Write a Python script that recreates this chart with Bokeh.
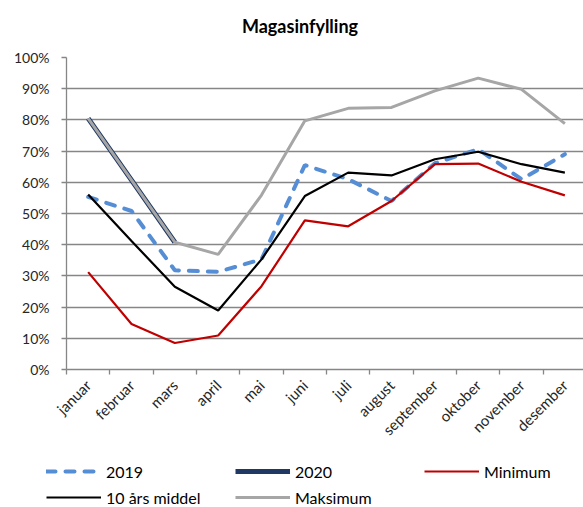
from bokeh.plotting import figure
from bokeh.layouts import column
from bokeh.models import (Range1d, FixedTicker, NumeralTickFormatter, Legend, LegendItem, Label)
from bokeh.embed import file_html
from bokeh.resources import INLINE
import math

months = ["januar", "februar", "mars", "april", "mai", "juni", "juli",
          "august", "september", "oktober", "november", "desember"]
v2019 = [0.553, 0.508, 0.318, 0.313, 0.353, 0.655, 0.610, 0.540, 0.661, 0.706, 0.610, 0.690]
v2020 = [0.805, 0.607, 0.408]
vmin = [0.312, 0.146, 0.085, 0.109, 0.267, 0.478, 0.459, 0.540, 0.658, 0.660, 0.602, 0.558]
vmid = [0.561, 0.412, 0.265, 0.189, 0.353, 0.556, 0.631, 0.622, 0.674, 0.698, 0.658, 0.631]
vmax = [0.805, 0.607, 0.408, 0.369, 0.559, 0.797, 0.837, 0.840, 0.893, 0.934, 0.898, 0.788]
yticks = [i / 10 for i in range(11)]

xs = list(range(len(months)))
FONT = "Lato"
TITLE = "Magasinfylling"

STYLES = {
    "2019": dict(line_color="#558ED5", line_width=4, line_dash="9 10", line_cap="round"),
    "2020": dict(line_color="#1F3864", line_width=5),
    "Minimum": dict(line_color="#C00000", line_width=2.2),
    "10 års middel": dict(line_color="black", line_width=2.2),
    "Maksimum": dict(line_color="#A6A6A6", line_width=3),
}


def bare(height):
    f = figure(width=583, height=height, output_backend="svg", toolbar_location=None,
               x_range=Range1d(0, 583), y_range=Range1d(0, height),
               x_axis_location=None, y_axis_location=None,
               min_border=0, min_border_left=0, min_border_right=0,
               min_border_top=0, min_border_bottom=0)
    f.grid.visible = False
    f.outline_line_color = None
    f.frame_align = False
    return f


# title strip
tf = bare(40)
tf.add_layout(Label(x=299.5, y=15, text=TITLE, text_font=FONT, text_font_size="18px",
                    text_font_style="bold", text_align="center", text_baseline="middle",
                    text_color="black"))

p = figure(width=583, height=415, output_backend="svg", toolbar_location=None,
           x_range=Range1d(-0.5, 11.43), y_range=Range1d(0, 1),
           min_border_left=66, min_border_right=0, min_border_top=17, min_border_bottom=86)
p.outline_line_color = None
p.background_fill_color = "white"
p.frame_align = False

# axes
p.xaxis.ticker = FixedTicker(ticks=xs, minor_ticks=[x - 0.5 for x in xs])
p.xaxis.major_label_overrides = {i: m for i, m in enumerate(months)}
p.xaxis.major_tick_out = 0
p.xaxis.major_tick_in = 0
p.xaxis.minor_tick_out = 5
p.xaxis.minor_tick_in = 0
p.xaxis.minor_tick_line_color = "#868686"
p.xaxis.minor_tick_line_width = 1.3
p.xaxis.axis_line_color = "#868686"
p.xaxis.axis_line_width = 1.3
p.xaxis.major_label_orientation = math.pi / 4
p.xaxis.major_label_standoff = 8
p.xaxis.major_label_text_font = FONT
p.xaxis.major_label_text_font_size = "15px"
p.xaxis.major_label_text_color = "#262626"
p.xgrid.visible = False

p.yaxis.ticker = FixedTicker(ticks=yticks, minor_ticks=[])
p.yaxis.formatter = NumeralTickFormatter(format="0%")
p.yaxis.major_tick_out = 5
p.yaxis.major_tick_in = 0
p.yaxis.major_tick_line_color = "#868686"
p.yaxis.major_tick_line_width = 1.3
p.yaxis.axis_line_color = "#868686"
p.yaxis.axis_line_width = 1.3
p.yaxis.major_label_standoff = 12
p.yaxis.major_label_text_font = FONT
p.yaxis.major_label_text_font_size = "14px"
p.yaxis.major_label_text_color = "#262626"
p.ygrid.grid_line_color = "#868686"
p.ygrid.grid_line_width = 1.3

# series (drawn bottom to top)
p.line(xs, v2019, **STYLES["2019"])
p.line(xs[:len(v2020)], v2020, **STYLES["2020"])
p.line(xs, vmin, **STYLES["Minimum"])
p.line(xs, vmid, **STYLES["10 års middel"])
p.line(xs, vmax, **STYLES["Maksimum"])

# legend strip
lg = bare(52)
items = []
for name in ["2019", "2020", "Minimum", "10 års middel", "Maksimum"]:
    r = lg.line([-50, -40], [-50, -40], **STYLES[name])
    items.append(LegendItem(label=name, renderers=[r]))
legend = Legend(items=items, location=(46, 0), orientation="horizontal", ncols=3,
                glyph_width=55, glyph_height=20, label_height=20, label_width=123,
                label_standoff=5, spacing=6, padding=0, margin=0,
                border_line_color=None, background_fill_alpha=0,
                label_text_font=FONT, label_text_font_size="16px", label_text_color="black")
lg.add_layout(legend)

layout = column(tf, p, lg, spacing=0)
open("out.html", "w").write(file_html(layout, INLINE))
